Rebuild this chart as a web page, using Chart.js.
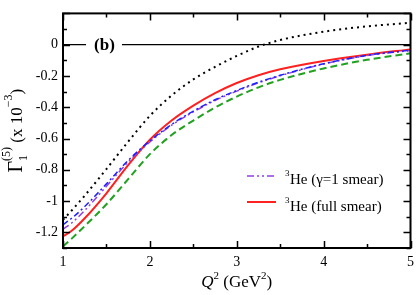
<!DOCTYPE html>
<html>
<head>
<meta charset="utf-8">
<script src="https://cdn.jsdelivr.net/npm/chart.js@4"></script>
<style>
  html, body { margin: 0; padding: 0; background: #fff; }
  canvas { display: block; }
</style>
</head>
<body>
<canvas id="chart" width="420" height="295"></canvas>
<script>
// Q^2 grid (GeV^2)
const q2 = [1, 1.1, 1.25, 1.5, 1.75, 2, 2.25, 2.5, 2.75, 3, 3.25, 3.5, 4, 4.5, 5];

// Gamma_1^(5) x 10^-3
const dotted = [-1.12, -1.06, -0.965, -0.795, -0.62, -0.455, -0.325, -0.222, -0.142, -0.072, -0.012, 0.03, 0.083, 0.117, 0.14];
const greenDash = [-1.29, -1.24, -1.16, -1.02, -0.86, -0.70, -0.578, -0.485, -0.402, -0.332, -0.273, -0.225, -0.152, -0.097, -0.055];
const blueDashDot = [-1.15, -1.11, -1.035, -0.89, -0.74, -0.615, -0.51, -0.425, -0.352, -0.293, -0.24, -0.196, -0.122, -0.068, -0.035];
const gammaOneSmear = [-1.18, -1.14, -1.06, -0.905, -0.75, -0.622, -0.515, -0.43, -0.357, -0.297, -0.244, -0.199, -0.124, -0.07, -0.037];
const fullSmear = [-1.225, -1.19, -1.11, -0.95, -0.77, -0.608, -0.485, -0.39, -0.31, -0.245, -0.195, -0.157, -0.104, -0.064, -0.03];

const yTickLabels = { '0': '0', '-0.2': '-0.2', '-0.4': '-0.4', '-0.6': '-0.6', '-0.8': '-0.8', '-1': '-1', '-1.2': '-1.2' };
const xTickLabels = { '1': '1', '2': '2', '3': '3', '4': '4', '5': '5' };

const serif = '"Liberation Serif", "Times New Roman", serif';

function pts(ys) {
  return q2.map((x, i) => ({ x, y: ys[i] }));
}

function series(data, color, width, dash) {
  return {
    data: pts(data),
    borderColor: color,
    borderWidth: width,
    borderDash: dash,
    borderCapStyle: 'butt',
    pointRadius: 0,
    fill: false,
    cubicInterpolationMode: 'monotone'
  };
}

// frame, inward ticks, zero line, labels, legend
const decorations = {
  id: 'decorations',
  beforeDatasetsDraw(chart) {
    const { ctx, chartArea: a, scales: { y } } = chart;
    const y0 = y.getPixelForValue(0);
    ctx.save();
    ctx.strokeStyle = '#000';
    ctx.lineWidth = 1.2;
    ctx.beginPath();
    ctx.moveTo(a.left, y0); ctx.lineTo(86, y0);
    ctx.moveTo(122, y0); ctx.lineTo(a.right, y0);
    ctx.stroke();
    ctx.fillStyle = '#000';
    ctx.font = 'bold 17px ' + serif;
    ctx.textAlign = 'center';
    ctx.textBaseline = 'middle';
    ctx.fillText('(b)', 104.5, y0 + 1);
    ctx.restore();
  },
  afterDraw(chart) {
    const { ctx, chartArea: a, scales: { x, y } } = chart;
    ctx.save();
    ctx.strokeStyle = '#000';
    ctx.lineWidth = 1.5;
    // ticks
    ctx.beginPath();
    y.ticks.forEach(t => {
      const p = Math.round(y.getPixelForValue(t.value)) + 0.5;
      const major = Math.abs(Math.round(t.value * 5) - t.value * 5) < 1e-6;
      const len = major ? 7 : 4;
      ctx.moveTo(a.left, p); ctx.lineTo(a.left + len, p);
      ctx.moveTo(a.right, p); ctx.lineTo(a.right - len, p);
    });
    x.ticks.forEach(t => {
      const p = Math.round(x.getPixelForValue(t.value)) + 0.5;
      const major = Math.abs(Math.round(t.value) - t.value) < 1e-6;
      const len = major ? 7 : 4;
      ctx.moveTo(p, a.bottom); ctx.lineTo(p, a.bottom - len);
      ctx.moveTo(p, a.top); ctx.lineTo(p, a.top + len);
    });
    ctx.stroke();
    // frame
    ctx.lineWidth = 2;
    ctx.strokeRect(a.left, a.top, a.right - a.left, a.bottom - a.top);

    ctx.fillStyle = '#000';
    ctx.textBaseline = 'alphabetic';
    ctx.textAlign = 'left';

    // x title: Q^2 (GeV^2)
    const xParts = [
      { t: 'Q', f: 'italic 17px ' + serif, dy: 0 },
      { t: '2', f: '11px ' + serif, dy: -8 },
      { t: ' (GeV', f: '17px ' + serif, dy: 0 },
      { t: '2', f: '11px ' + serif, dy: -8 },
      { t: ')', f: '17px ' + serif, dy: 0 }
    ];
    let w = 0;
    xParts.forEach(p => { ctx.font = p.f; w += ctx.measureText(p.t).width; });
    let cx = (a.left + a.right) / 2 - w / 2;
    xParts.forEach(p => {
      ctx.font = p.f;
      ctx.fillText(p.t, cx, 287 + p.dy);
      cx += ctx.measureText(p.t).width;
    });

    // y title: Gamma_1^(5) (x 10^-3)
    ctx.save();
    ctx.translate(22, (a.top + a.bottom) / 2);
    ctx.rotate(-Math.PI / 2);
    const fG = '20px ' + serif, fS = '12px ' + serif, fT = '17px ' + serif;
    ctx.font = fG; const wG = ctx.measureText('\u0393').width;
    ctx.font = fS; const wSub = Math.max(ctx.measureText('1').width, ctx.measureText('(5)').width);
    ctx.font = fT; const wT1 = ctx.measureText(' (x 10').width;
    ctx.font = fS; const wE = ctx.measureText('\u22123').width;
    ctx.font = fT; const wT2 = ctx.measureText(')').width;
    let tx = -(wG + wSub + wT1 + wE + wT2) / 2;
    ctx.font = fG; ctx.fillText('\u0393', tx, 0); tx += wG;
    ctx.font = fS; ctx.fillText('1', tx, 5); ctx.fillText('(5)', tx, -12); tx += wSub;
    ctx.font = fT; ctx.fillText(' (x 10', tx, 0); tx += wT1;
    ctx.font = fS; ctx.fillText('\u22123', tx, -10); tx += wE;
    ctx.font = fT; ctx.fillText(')', tx, 0);
    ctx.restore();

    // legend
    const legend = [
      { label: 'He (\u03b3=1 smear)', color: '#9040e0', dash: [7, 3, 2, 3, 2, 3], width: 1.5, y: 176, ty: 184 },
      { label: 'He (full smear)', color: '#ff2020', dash: [], width: 2, y: 202, ty: 211 }
    ];
    legend.forEach(l => {
      ctx.strokeStyle = l.color;
      ctx.lineWidth = l.width;
      ctx.setLineDash(l.dash);
      ctx.beginPath();
      ctx.moveTo(247, l.y); ctx.lineTo(276, l.y);
      ctx.stroke();
      ctx.setLineDash([]);
      ctx.font = '9px ' + serif;
      ctx.fillText('3', 285, l.ty - 8);
      ctx.font = '15px ' + serif;
      ctx.fillText(l.label, 290, l.ty);
    });
    ctx.restore();
  }
};

new Chart(document.getElementById('chart'), {
  type: 'line',
  data: {
    datasets: [
      series(dotted, '#000000', 2, [2, 4]),
      series(greenDash, '#22a022', 2, [7, 4]),
      series(blueDashDot, '#2020ff', 1.5, [6, 3, 2, 3]),
      series(gammaOneSmear, '#9040e0', 1.5, [7, 3, 2, 3, 2, 3]),
      series(fullSmear, '#ff2020', 2, [])
    ]
  },
  options: {
    responsive: false,
    animation: false,
    devicePixelRatio: 1,
    layout: { padding: { top: 2, right: 4, left: 0, bottom: 0 } },
    plugins: {
      legend: { display: false },
      tooltip: { enabled: false }
    },
    scales: {
      x: {
        type: 'linear',
        min: 1,
        max: 5,
        grid: { display: false, drawTicks: false },
        border: { display: false },
        afterFit: s => { s.height = 47; },
        ticks: {
          stepSize: 0.5,
          padding: 6,
          maxRotation: 0,
          autoSkip: false,
          color: '#000',
          font: { family: serif, size: 14 },
          callback: v => xTickLabels[String(v)] || ''
        }
      },
      y: {
        min: -1.3,
        max: 0.2,
        grid: { display: false, drawTicks: false },
        border: { display: false },
        afterFit: s => { s.width = 63; },
        ticks: {
          stepSize: 0.1,
          padding: 5,
          autoSkip: false,
          color: '#000',
          font: { family: serif, size: 14 },
          callback: v => yTickLabels[String(Math.round(v * 10) / 10)] || ''
        }
      }
    }
  },
  plugins: [decorations]
});
</script>
</body>
</html>
